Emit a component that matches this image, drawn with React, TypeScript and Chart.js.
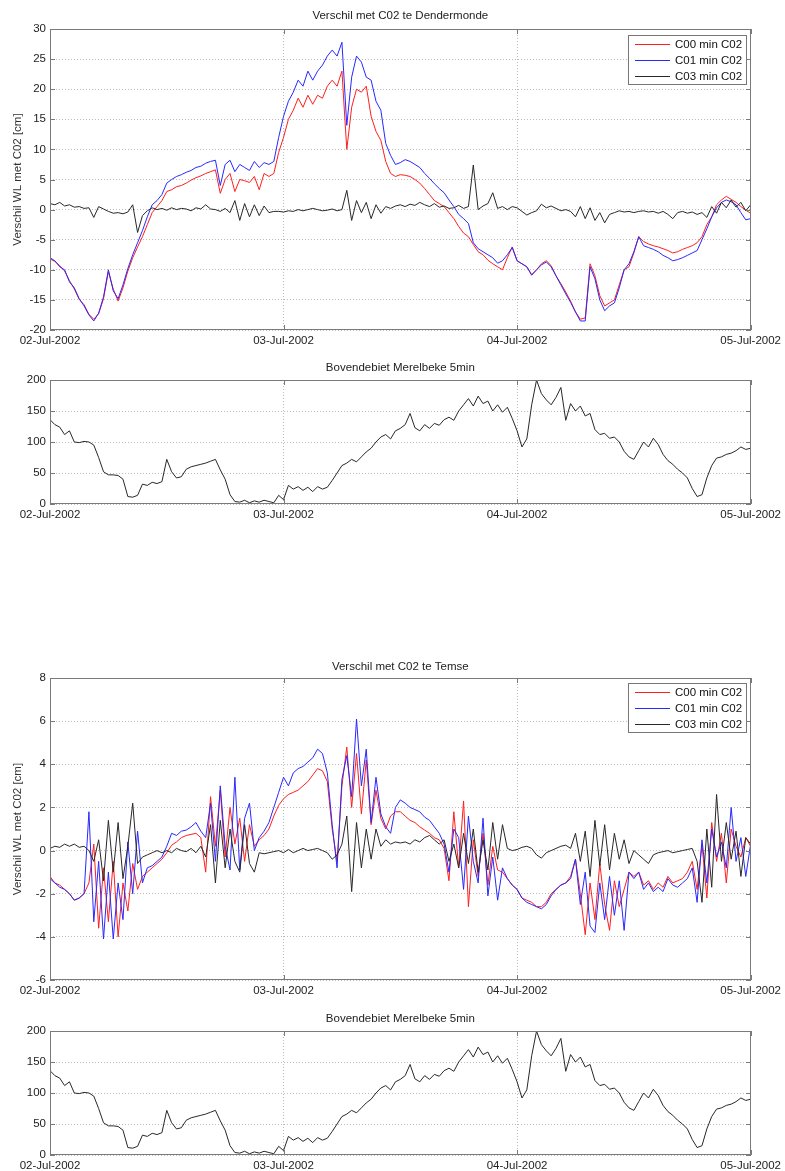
import React, { useEffect, useRef } from "react";
import { Chart, registerables } from "chart.js";

Chart.register(...registerables);

// ---------------- DATA ----------------
const STEP_HOURS = 0.5; // samples every half hour, 02-Jul-2002 00:00 .. 05-Jul-2002 00:00
const dateLabels = ["02-Jul-2002", "03-Jul-2002", "04-Jul-2002", "05-Jul-2002"];
const seriesLabels = ["C00 min C02", "C01 min C02", "C03 min C02"];

// Verschil met C02 te Dendermonde [cm]
const dendC00 = [
  -8.2, -8.6, -9.3, -10.2, -11.8, -13.2, -14.9, -15.8, -17.4, -18.2, -17.3, -14.8,
  -10.3, -13.2, -15.2, -13, -10.2, -8, -6.2, -4.5, -2.5, -0.5, 0.5, 1.5,
  3, 3.3, 3.8, 4, 4.4, 4.9, 5.3, 5.6, 6, 6.3, 6.6, 2.7,
  5, 6, 3, 5, 4.8, 4.5, 5.5, 3.3, 6, 5.5, 6, 9.5,
  12, 15, 16.5, 18.5, 17, 19, 17.5, 19, 18.5, 20.5, 21.5, 20.5,
  23, 10, 17, 20, 19.5, 20.5, 15.5, 13, 11.5, 8, 6, 5.5,
  5.8, 5.7, 5.5, 5, 4.4, 3.5, 2.5, 1.5, 1, 0.5, -0.5, -1.5,
  -2.8, -3.9, -4.5, -5.8, -7, -7.5, -8.4, -9, -9.5, -10, -8, -6.2,
  -8.5, -9, -9.5, -10.8, -10, -9, -8.5, -9.3, -11, -12.3, -13.7, -15.2,
  -17, -18.2, -18, -9, -11, -14.3, -16, -15.5, -15, -12.5, -10, -9.5,
  -7.2, -4.5, -5.3, -5.7, -6, -6.2, -6.5, -6.8, -7.2, -7, -6.6, -6.3,
  -6, -5.5, -4.5, -2.5, -1.2, 0.8, 1.6, 2.2, 1.7, 1.2, 0.5, -0.1,
  -0.6,
];
const dendC01 = [
  -8, -8.5, -9.5, -10, -12, -13, -14.8, -16, -17.5, -18.5, -17.2, -14.5,
  -10, -13.5, -14.8, -12.5, -9.8, -7.5, -5.5, -3.5, -1.2, 0.8, 1.5, 2.5,
  4.4, 5, 5.5, 5.8, 6.2, 6.5, 7, 7.2, 7.7, 8, 8.2, 4,
  7.5, 8.2, 6.3, 7.5, 7, 6.5, 8, 7, 7.8, 7.5, 8, 12,
  15.5, 18, 19.5, 21.5, 20.5, 23, 21.5, 23, 24, 25.5, 26.5, 25.5,
  27.8, 14, 22, 25.5, 24.5, 22, 21.5, 18, 16.5, 11, 9, 7.5,
  7.8, 8.3, 8, 7.5, 7, 6, 5.2, 4.3, 3.5, 2.8, 1.6, 0.5,
  -0.8, -1.5, -2.3, -5.5, -6.5, -7, -7.5, -8, -8.9, -8.5, -7.5, -6.3,
  -8.5, -9, -9.5, -10.9, -10, -9.2, -8.7, -9.5, -11, -12.5, -14, -15.4,
  -17, -18.5, -18.5, -9.5, -11.5, -15, -16.8, -16, -15.5, -13, -10, -9,
  -7, -4.5, -6, -6.3, -6.6, -7, -7.6, -8, -8.5, -8.3, -8, -7.6,
  -7.2, -6.8, -5, -3.2, -1.2, 0.3, 1.2, 1.6, 1.3, 0.8, -0.5, -1.7,
  -1.5,
];
const dendC03 = [
  1, 0.8, 1.2, 0.6, 0.8, 0.4, 0.5, 0.2, 0.3, -1.3, 0.5, 0.1,
  -0.3, -0.6, -0.5, -0.7, -0.4, 0.8, -3.8, -1, -0.2, 0.3, 0, 0.2,
  -0.1, 0.3, 0, 0.2, 0.1, -0.2, 0.3, 0.1, 0.8, 0.1, 0, -0.3,
  0.2, -0.5, 1.5, -1.8, 1, -1.2, 0.8, -1, 0.6, -0.5, -0.3, -0.3,
  -0.4, -0.2, -0.3, 0, -0.2, 0, 0.2, 0, -0.2, -0.1, 0.1, -0.2,
  0, 3.2, -1.8, 1.5, -0.5, 1.2, -1.5, 0.8, -0.6, 0.5, 0.2, 0.6,
  0.8, 0.5, 0.9, 0.7, 1.2, 0.8, 0.5, 1, 0.4, 0.6, 0.2, 0.3,
  0.7, 0.2, 0.5, 7.4, 0, 0.6, 1, 2.8, 0.2, 0.5, 0, 0.5,
  0.3, -0.3, -0.9, -0.5, -0.2, 0.9, 0.3, 0.6, 0.2, -0.2, 0, -0.3,
  -1.2, 0.5, -1.5, 0.3, -1.8, -0.5, -2.2, -0.8, -0.5, -0.2, -0.4, -0.3,
  -0.5, -0.3, -0.2, -0.4, -0.3, -0.6, -0.3, -0.8, -1.5, -0.5, -0.3, -0.6,
  -0.4, -0.8, -0.5, -1.3, 0.5, -0.6, 1.2, 0.3, 1.6, 0.4, 1.2, -0.2,
  0.8,
];

// Verschil met C02 te Temse [cm]
const temseC00 = [
  -1.2, -1.5, -1.6, -1.8, -2.0, -2.3, -2.2, -2.0, -1.5, 0.3, -3.6, -0.8,
  -3.3, -0.5, -4.0, -1.5, -2.8, -0.6, -1.8, -1.2, -1.0, -0.8, -0.6, -0.4,
  -0.1, 0.25, 0.4, 0.6, 0.7, 0.75, 0.8, 0.6, -1.0, 2.5, 0.2, 2.8,
  -0.3, 2.0, 0.3, 1.5, -0.5, 1.2, 0.2, 0.5, 0.7, 1.0, 1.6, 2.1,
  2.4, 2.6, 2.7, 2.8, 3.0, 3.2, 3.5, 3.8, 3.7, 3.2, 1.0, -0.5,
  3.0, 4.8, 2.0, 4.5, 1.7, 4.2, 1.2, 2.8, 1.5, 1.0, 1.6, 1.8,
  1.8, 1.6, 1.4, 1.3, 1.1, 0.95, 0.8, 0.6, 0.5, 0.1, -1.4, 1.8,
  -0.8, 2.3, -2.6, 0.5, -1.2, 0.8, -1.6, 0.2, -0.9, -1.0, -1.3, -1.6,
  -1.8, -2.2, -2.3, -2.4, -2.6, -2.6, -2.4, -2.0, -1.8, -1.6, -1.5, -1.2,
  -0.4, -2.0, -3.9, -1.5, -3.2, -0.6, -2.5, -3.7, -1.4, -2.6, -1.8, -1.0,
  -1.2, -1.0, -1.6, -1.4, -1.8, -1.5, -1.7, -1.2, -1.5, -1.4, -1.3, -1.0,
  -0.5, -1.8, 0.3, -2.2, 1.3, -0.5, 0.8, -1.5, 1.0, 0.2, -0.3, 0.6,
  0.2,
];
const temseC01 = [
  -1.3, -1.5, -1.7, -1.8, -2.0, -2.3, -2.2, -2.0, 1.8, -3.3, -0.5, -4.1,
  -1.0, -4.1, -1.5, -3.2, 0.4, -2.0, 0.9, -1.5, -0.8, -0.7, -0.5, -0.3,
  0.2, 0.8, 0.7, 0.9, 0.95, 1.1, 1.3, 0.9, 0.6, 2.2, -0.5, 3.0,
  0.2, -0.9, 3.4, -0.9, 1.5, 2.2, 0, 0.6, 0.9, 1.3, 2.0, 2.7,
  3.4, 3.0, 3.6, 3.8, 3.9, 4.1, 4.3, 4.7, 4.5, 3.6, 1.2, -0.8,
  3.3, 4.4, 2.5, 6.1, 3.0, 4.7, 1.3, 3.4, 1.7, 1.1, 0.8, 2.0,
  2.35, 2.2, 2.0, 1.9, 1.8, 1.55, 1.4, 1.1, 0.8, 0.3, -1.0, 1.0,
  0.6, -1.8, 1.6, -0.5, -1.5, 1.5, -2.1, -0.3, -2.3, -0.8, -1.3, -1.6,
  -1.8, -2.2, -2.4, -2.5, -2.6, -2.7, -2.5, -2.1, -1.8, -1.6, -1.5, -1.3,
  -0.4, -2.5, -1.0, -3.5, -3.8, -1.5, -3.2, -1.2, -3.0, -1.4, -3.7, -1.0,
  -1.3, -1.0, -1.8, -1.5, -1.9, -1.7, -1.9, -1.3, -1.6, -1.7, -1.5, -1.3,
  -0.8, -2.4, 0.5, -1.5, 1.0, -0.3, 0.4, -0.8, 2.0, -0.5, 0.6, -1.2,
  0.3,
];
const temseC03 = [
  0.1, 0.2, 0.15, 0.3, 0.2, 0.3, 0.15, 0.2, 0, -0.5, 0.5, -1.4,
  1.4, -1.0, 1.3, -1.3, 0.2, 2.2, -0.6, -0.3, -0.2, -0.1, 0, -0.1,
  0, -0.1, 0.1, 0, -0.05, 0.1, -0.1, 0.2, -0.3, 1.2, -1.5, 1.4,
  -0.8, 1.0, -0.5, -1.0, 1.2, -0.6, -1.0, -0.1, -0.15, -0.1, -0.05, 0,
  -0.1, 0.05, -0.1, 0, 0.1, 0, 0.05, 0.1, 0, -0.1, -0.4, -0.2,
  0.3, 1.6, -1.9, 1.3, -0.8, 1.0, -0.4, 1.0, 0.2, 0.5, 0.3, 0.4,
  0.35, 0.4, 0.3, 0.5, 0.4, 0.6, 0.7, 0.5, 0.3, 0.5, -0.5, 0.3,
  -0.8, 0.8, -0.6, 1.0, -1.0, 0.5, -0.9, 1.3, -0.4, 1.2, 0.1, 0,
  0.05, 0.15, 0.2, 0.1, -0.2, -0.35, -0.1, 0, 0.1, 0.2, 0.25, 0.1,
  0.8, -0.5, 0.9, -1.2, 1.4, -0.7, 1.2, -0.9, 0.8, -0.4, 0.5, -0.6,
  0, -0.2, -0.4, -0.6, -0.2, -0.1, -0.05, 0, -0.1, -0.05, 0, 0.05,
  0.1, -0.5, -2.4, 1.0, -1.7, 2.6, -0.5, 1.3, -0.4, 0.9, -1.2, 0.6,
  0.3,
];

// Bovendebiet Merelbeke 5min
const flowMerelbeke = [
  136, 128, 124, 112, 118, 100, 99, 101, 100, 95, 75, 52,
  47, 47, 46, 40, 12, 11, 14, 32, 30, 35, 33, 36,
  72, 52, 42, 44, 56, 60, 62, 64, 66, 69, 72, 55,
  40, 15, 4, 3, 6, 2, 5, 3, 6, 4, 2, 14,
  7, 30, 24, 28, 22, 27, 20, 28, 24, 27, 38, 50,
  62, 66, 72, 68, 76, 84, 90, 100, 108, 112, 105, 118,
  122, 128, 146, 123, 118, 128, 122, 130, 127, 136, 140, 135,
  150, 160, 170, 158, 174, 162, 166, 150, 160, 148, 156, 138,
  118, 92, 105, 160, 200, 178, 168, 160, 172, 188, 135, 162,
  150, 158, 142, 146, 120, 112, 114, 106, 108, 100, 85, 76,
  72, 86, 100, 92, 106, 96, 80, 70, 64, 56, 50, 42,
  25, 12, 15, 42, 62, 74, 76, 80, 82, 86, 92, 88,
  90,
];

// ---------------- STYLE / LAYOUT ----------------
const FONT = '"Liberation Sans", Arial, Helvetica, sans-serif';
const DATE_FONT = '"Liberation Sans Narrow", "Liberation Sans", Arial, sans-serif';
const RED = "#ff1e1e";
const BLUE = "#2828ff";
const BLACK = "#282828";
const PAGE_W = 785;
const PLOT_LEFT = 50;
const PLOT_RIGHT = 753;

type Series = { label: string; values: number[]; color: string; order: number };
type Panel = {
  top: number;
  height: number;
  title: string;
  titleY: number;
  plotTop: number;
  plotBottom: number;
  yMin: number;
  yMax: number;
  yStep: number;
  yTitle?: string;
  legend: boolean;
  legendOffset: number;
  series: Series[];
};

const panels: Panel[] = [
  {
    top: 0, height: 352, title: "Verschil met C02 te Dendermonde", titleY: 16, plotTop: 29, plotBottom: 330,
    yMin: -20, yMax: 30, yStep: 5, yTitle: "Verschil WL met C02 [cm]", legend: true, legendOffset: 6,
    series: [
      { label: seriesLabels[0], values: dendC00, color: RED, order: 3 },
      { label: seriesLabels[1], values: dendC01, color: BLUE, order: 2 },
      { label: seriesLabels[2], values: dendC03, color: BLACK, order: 1 },
    ],
  },
  {
    top: 352, height: 172, title: "Bovendebiet Merelbeke 5min", titleY: 16, plotTop: 28, plotBottom: 152,
    yMin: 0, yMax: 200, yStep: 50, legend: false, legendOffset: 0,
    series: [{ label: "Bovendebiet", values: flowMerelbeke, color: BLACK, order: 1 }],
  },
  {
    top: 648, height: 352, title: "Verschil met C02 te Temse", titleY: 19, plotTop: 30, plotBottom: 332,
    yMin: -6, yMax: 8, yStep: 2, yTitle: "Verschil WL met C02 [cm]", legend: true, legendOffset: 5,
    series: [
      { label: seriesLabels[0], values: temseC00, color: RED, order: 3 },
      { label: seriesLabels[1], values: temseC01, color: BLUE, order: 2 },
      { label: seriesLabels[2], values: temseC03, color: BLACK, order: 1 },
    ],
  },
  {
    top: 1000, height: 171, title: "Bovendebiet Merelbeke 5min", titleY: 19, plotTop: 31, plotBottom: 155,
    yMin: 0, yMax: 200, yStep: 50, legend: false, legendOffset: 0,
    series: [{ label: "Bovendebiet", values: flowMerelbeke, color: BLACK, order: 1 }],
  },
];

// Box around the axes, inward tick marks and a boxed legend (MATLAB look)
function makeFramePlugin(p: Panel) {
  return {
    id: "matlabFrame",
    afterDatasetsDraw(chart: any) {
      const { ctx, chartArea } = chart;
      const left = Math.round(chartArea.left);
      const right = Math.round(chartArea.right);
      const top = Math.round(chartArea.top);
      const bottom = Math.round(chartArea.bottom);
      const xs = chart.scales.x;
      const ys = chart.scales.y;
      ctx.save();
      ctx.setLineDash([]);
      ctx.globalAlpha = 1;
      ctx.lineWidth = 1;
      ctx.strokeStyle = "#7a7a7a";
      ctx.beginPath();
      const TL = 5;
      ys.ticks.forEach((t: any) => {
        const py = Math.round(ys.getPixelForValue(t.value)) + 0.5;
        ctx.moveTo(left, py);
        ctx.lineTo(left + TL, py);
        ctx.moveTo(right, py);
        ctx.lineTo(right - TL, py);
      });
      xs.ticks.forEach((t: any) => {
        const px = Math.round(xs.getPixelForValue(t.value)) + 0.5;
        ctx.moveTo(px, bottom);
        ctx.lineTo(px, bottom - TL);
        ctx.moveTo(px, top);
        ctx.lineTo(px, top + TL);
      });
      ctx.stroke();
      ctx.strokeRect(left + 0.5, top + 0.5, right - left - 1, bottom - top - 1);

      if (p.legend) {
        const bw = 118;
        const bh = 49;
        const bx = right - bw - 5;
        const by = top + p.legendOffset;
        ctx.fillStyle = "#ffffff";
        ctx.fillRect(bx, by, bw, bh);
        ctx.strokeStyle = "#777777";
        ctx.strokeRect(bx + 0.5, by + 0.5, bw, bh);
        ctx.font = "11.5px " + FONT;
        ctx.textBaseline = "middle";
        ctx.textAlign = "left";
        p.series.forEach((s, i) => {
          const ry = by + 9 + i * 16;
          ctx.fillStyle = s.color;
          ctx.fillRect(bx + 7, ry, 35, 1);
          ctx.fillStyle = "#111111";
          ctx.fillText(s.label, bx + 47, ry + 0.5);
        });
      }
      ctx.restore();
    },
  };
}

function makeConfig(p: Panel): any {
  const titleSize = 11.5;
  const half = (titleSize * 1.2) / 2;
  return {
    type: "line",
    data: {
      datasets: p.series.map((s) => ({
        label: s.label,
        data: s.values.map((v, i) => ({ x: i * STEP_HOURS, y: v })),
        borderColor: s.color,
        backgroundColor: s.color,
        borderWidth: 1,
        pointRadius: 0,
        tension: 0,
        fill: false,
        order: s.order,
      })),
    },
    options: {
      responsive: false,
      animation: false,
      events: [],
      layout: { padding: { left: 0, right: PAGE_W - PLOT_RIGHT, top: 0, bottom: 0 } },
      plugins: {
        legend: { display: false },
        tooltip: { enabled: false },
        title: {
          display: true,
          text: p.title,
          fullSize: false,
          color: "#222",
          font: { family: FONT, size: titleSize, weight: "normal", lineHeight: 1.2 },
          padding: { top: p.titleY - half, bottom: p.plotTop - p.titleY - half },
        },
      },
      scales: {
        x: {
          type: "linear",
          min: 0,
          max: 72,
          afterFit: (s: any) => {
            s.height = p.height - p.plotBottom;
          },
          ticks: {
            stepSize: 24,
            autoSkip: false,
            maxRotation: 0,
            minRotation: 0,
            padding: 4,
            color: "#222",
            font: { family: DATE_FONT, size: 11.5 },
            callback: (v: number) => dateLabels[Math.round(v / 24)] ?? "",
          },
          grid: { color: "rgba(120,120,120,0.5)", lineWidth: 1, drawTicks: false },
          border: { display: false, dash: [1, 2] },
        },
        y: {
          type: "linear",
          min: p.yMin,
          max: p.yMax,
          afterFit: (s: any) => {
            s.width = PLOT_LEFT;
          },
          ticks: {
            stepSize: p.yStep,
            padding: 4,
            color: "#222",
            font: { family: FONT, size: 11.5 },
          },
          title: p.yTitle
            ? {
                display: true,
                text: p.yTitle,
                color: "#333",
                font: { family: FONT, size: 11.5 },
                padding: { top: 11, bottom: 0 },
              }
            : { display: false },
          grid: { color: "rgba(120,120,120,0.5)", lineWidth: 1, drawTicks: false },
          border: { display: false, dash: [1, 2] },
        },
      },
    },
    plugins: [makeFramePlugin(p)],
  };
}

export default function App() {
  const refs = useRef<(HTMLCanvasElement | null)[]>([]);

  useEffect(() => {
    const charts = panels.map((p, i) => {
      const cv = refs.current[i]!;
      return new Chart(cv, makeConfig(p));
    });
    return () => charts.forEach((c) => c.destroy());
  }, []);

  return (
    <div
      style={{
        position: "absolute",
        left: 0,
        top: 0,
        width: PAGE_W,
        height: 1171,
        background: "#ffffff",
        overflow: "hidden",
      }}
    >
      {panels.map((p, i) => (
        <canvas
          key={i}
          ref={(el) => {
            refs.current[i] = el;
          }}
          width={PAGE_W}
          height={p.height}
          style={{ position: "absolute", left: 0, top: p.top, width: PAGE_W, height: p.height }}
        />
      ))}
    </div>
  );
}
